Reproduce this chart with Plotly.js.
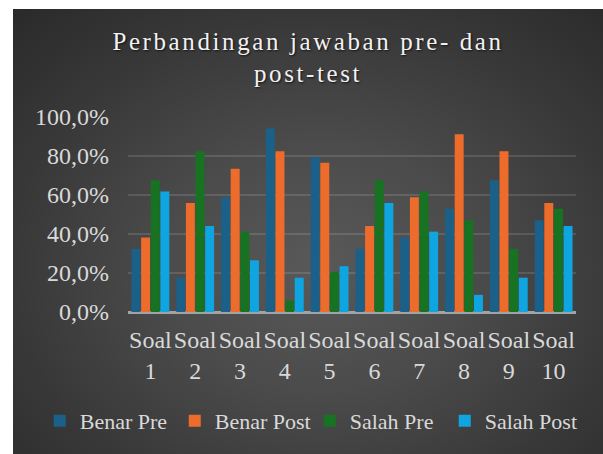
<!DOCTYPE html>
<html>
<head>
<meta charset="utf-8">
<script src="https://cdn.plot.ly/plotly-3.0.1.min.js"></script>
<style>
  html, body { margin: 0; padding: 0; background: #ffffff; }
  #chart {
    position: absolute; left: 13px; top: 9px; width: 590px; height: 445px;
    background: radial-gradient(ellipse 75% 80% at 52% 58%, #595959 0%, #4b4b4b 35%, #383838 70%, #2a2a2a 100%);
  }
  .gtitle { letter-spacing: 2.6px; }
</style>
</head>
<body>
<div id="chart"></div>
<script>
const categories = ['Soal 1','Soal 2','Soal 3','Soal 4','Soal 5','Soal 6','Soal 7','Soal 8','Soal 9','Soal 10'];
const tickLabels = ['Soal<br>1','Soal<br>2','Soal<br>3','Soal<br>4','Soal<br>5','Soal<br>6','Soal<br>7','Soal<br>8','Soal<br>9','Soal<br>10'];
const benarPre  = [32.4, 17.6, 58.8, 94.1, 79.4, 32.4, 38.2, 52.9, 67.6, 47.1];
const benarPost = [38.2, 55.9, 73.5, 82.4, 76.5, 44.1, 58.8, 91.2, 82.4, 55.9];
const salahPre  = [67.6, 82.4, 41.2, 5.9, 20.6, 67.6, 61.8, 47.1, 32.4, 52.9];
const salahPost = [61.8, 44.1, 26.5, 17.6, 23.5, 55.9, 41.2, 8.8, 17.6, 44.1];
const seriesNames = ['Benar Pre', 'Benar Post', 'Salah Pre', 'Salah Post'];
const yTickVals = [0, 20, 40, 60, 80, 100];
const yTickText = ['0,0%', '20,0%', '40,0%', '60,0%', '80,0%', '100,0%'];

const colors = ['#1a6088', '#ee6c2b', '#177322', '#0ea5e0'];
const values = [benarPre, benarPost, salahPre, salahPost];

const traces = values.map((v, i) => ({
  type: 'bar',
  name: seriesNames[i],
  x: categories,
  y: v,
  marker: { color: colors[i], line: { width: 0 } }
}));

const fontFam = 'Liberation Serif';

const layout = {
  width: 590,
  height: 445,
  paper_bgcolor: 'rgba(0,0,0,0)',
  plot_bgcolor: 'rgba(0,0,0,0)',
  margin: { l: 115, r: 27, t: 108, b: 142, pad: 0, autoexpand: false },
  barmode: 'group',
  bargap: 0.14,
  bargroupgap: 0.07,
  title: {
    text: 'Perbandingan jawaban pre- dan<br>post-test',
    x: 0.5, xref: 'container', xanchor: 'center',
    y: 0.908, yref: 'container', yanchor: 'middle',
    font: { family: fontFam, size: 25, color: '#f2f2f2', shadow: '1px 1px 2px rgba(0,0,0,0.7)' }
  },
  xaxis: {
    type: 'category',
    tickvals: categories,
    ticktext: tickLabels,
    tickangle: 0,
    tickfont: { family: fontFam, size: 24, color: '#d9d9d9' },
    showgrid: false,
    showline: false,
    ticks: '',
    ticklabelstandoff: 11,
    fixedrange: true
  },
  yaxis: {
    range: [0, 100],
    tickvals: yTickVals,
    ticktext: yTickText,
    tickfont: { family: fontFam, size: 24, color: '#d9d9d9' },
    showgrid: true,
    gridcolor: 'rgba(255,255,255,0.12)',
    gridwidth: 2,
    zeroline: true,
    zerolinecolor: '#9fa4a8',
    zerolinewidth: 3,
    showline: false,
    ticks: '',
    ticklabelstandoff: 18,
    fixedrange: true
  },
  showlegend: true,
  legend: {
    orientation: 'h',
    x: -0.197, xref: 'paper', xanchor: 'left',
    y: -0.559, yref: 'paper', yanchor: 'middle',
    font: { family: fontFam, size: 22, color: '#d9d9d9' },
    bgcolor: 'rgba(0,0,0,0)',
    itemwidth: 30,
    entrywidth: 90,
    entrywidthmode: 'pixels',
    traceorder: 'normal'
  },
  hovermode: false
};

Plotly.newPlot('chart', traces, layout, { displayModeBar: false, staticPlot: true });
</script>
</body>
</html>
